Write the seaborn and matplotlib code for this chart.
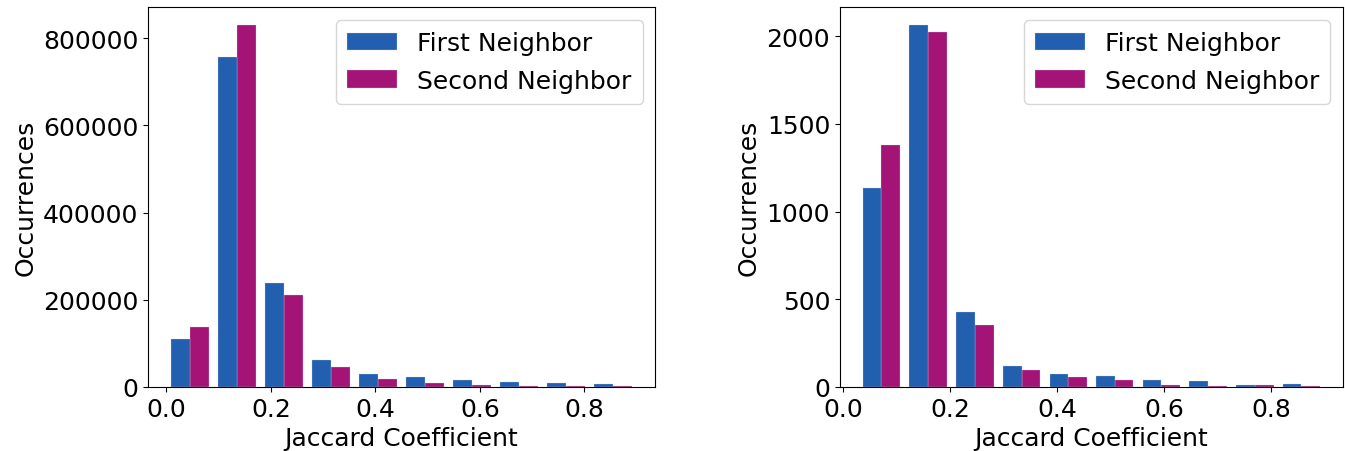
import numpy as np
import pandas as pd
import matplotlib
matplotlib.use("Agg")
import matplotlib.pyplot as plt
import seaborn as sns

# ------------------------------------------------------------
# data (counts per Jaccard bin)
# ------------------------------------------------------------
labels = ["First Neighbor", "Second Neighbor"]

left_edges = [0.0, 0.09, 0.18, 0.27, 0.36, 0.45, 0.54, 0.63, 0.72, 0.81, 0.90]
left_first = [110000, 756000, 237500, 62000, 30000, 23700, 16900, 11500, 9200, 6900]
left_second = [138600, 829000, 212000, 45000, 19000, 9200, 4600, 2300, 2000, 1800]

right_edges = [0.028, 0.115, 0.202, 0.290, 0.377, 0.464, 0.551, 0.638, 0.726, 0.813, 0.900]
right_first = [1132, 2062, 429, 122, 76, 65, 42, 36, 12, 19]
right_second = [1379, 2025, 352, 99, 59, 42, 12, 8, 12, 8]

colors = ["#235FAF", "#A41477"]
FS = 18


def make_frame(edges, first, second):
    centers = [(edges[i] + edges[i + 1]) / 2 for i in range(len(edges) - 1)]
    rows = []
    for name, counts in zip(labels, [first, second]):
        for c, n in zip(centers, counts):
            rows.append({"jaccard": c, "count": n, "neighbor": name})
    return pd.DataFrame(rows)


def draw_panel(ax, edges, first, second):
    df = make_frame(edges, first, second)
    sns.histplot(data=df, x="jaccard", weights="count", hue="neighbor",
                 hue_order=labels, bins=edges, multiple="dodge", shrink=0.8,
                 palette=colors, alpha=1, edgecolor="#c8d6ee", linewidth=0.2,
                 ax=ax)
    ax.set_xlabel("Jaccard Coefficient", fontsize=FS)
    ax.set_ylabel("Occurrences", fontsize=FS)
    ax.tick_params(labelsize=FS)
    ax.set_xticks([0.0, 0.2, 0.4, 0.6, 0.8])
    sns.move_legend(ax, "upper right", title=None, fontsize=FS,
                    labelspacing=0.55, borderpad=0.45)


fig = plt.figure(figsize=(13.45, 4.52), dpi=100)
ax1 = fig.add_axes([0.110, 0.1416, 0.377, 0.840])
ax2 = fig.add_axes([0.6245, 0.1416, 0.374, 0.840])

draw_panel(ax1, left_edges, left_first, left_second)
draw_panel(ax2, right_edges, right_first, right_second)

fig.savefig("out.png", dpi=100)
